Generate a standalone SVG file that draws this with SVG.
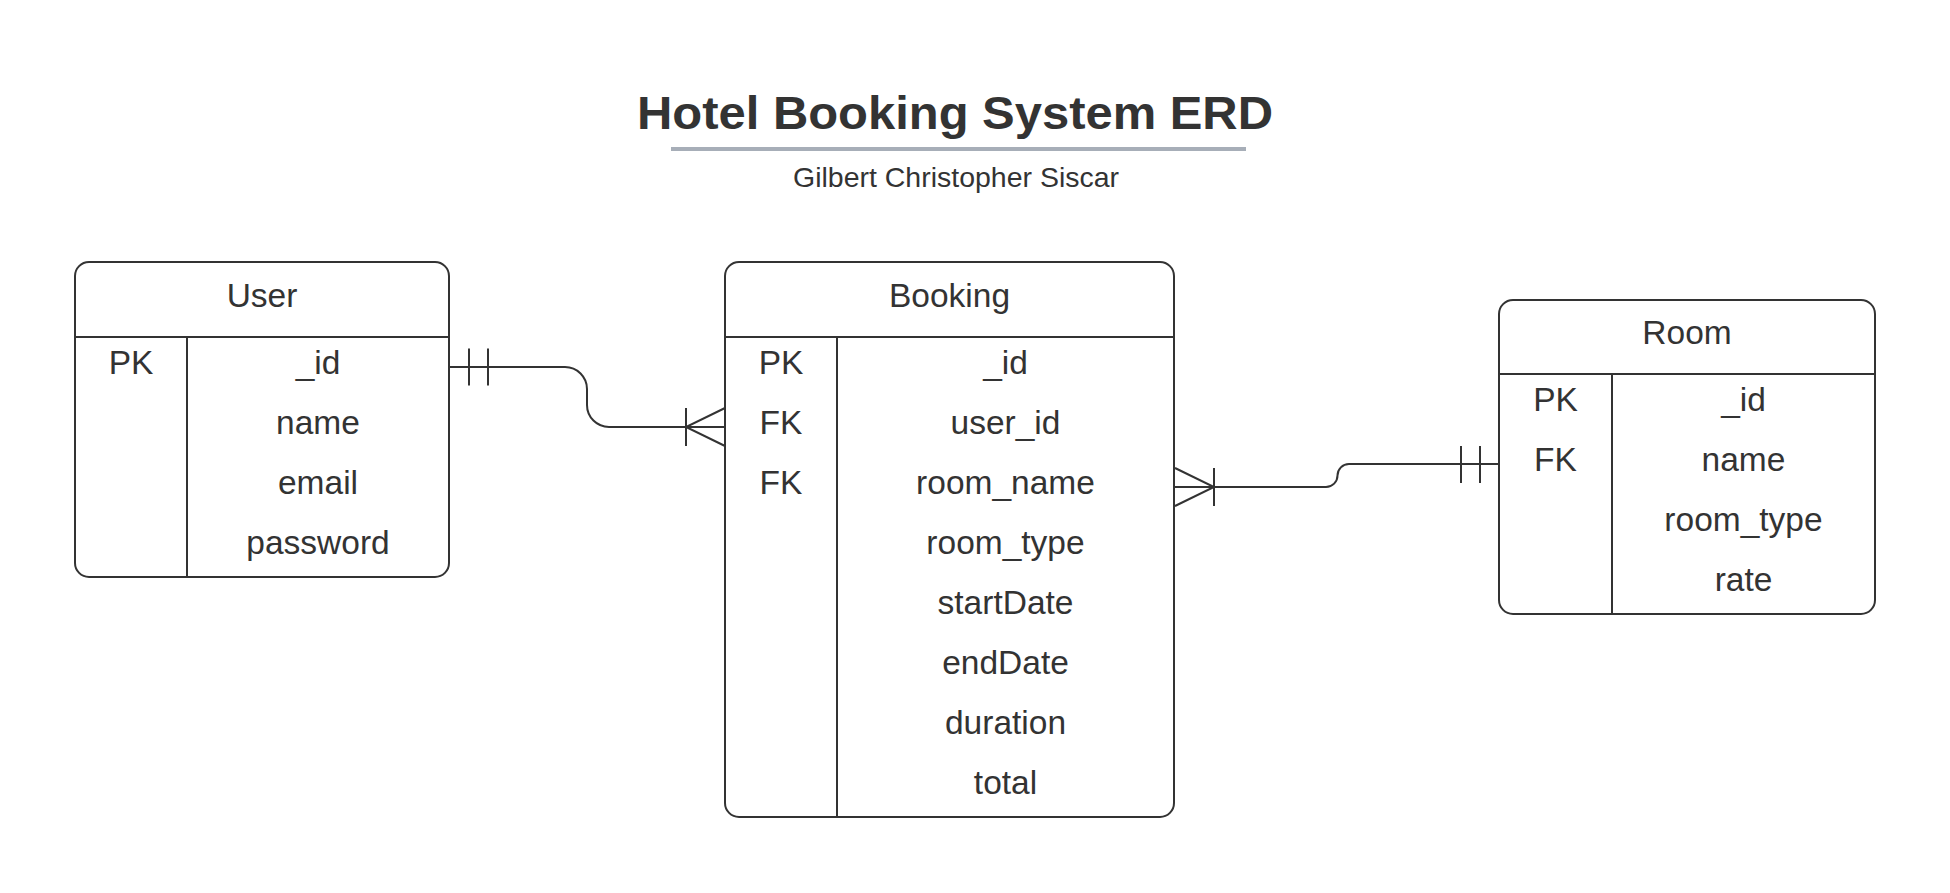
<svg xmlns="http://www.w3.org/2000/svg" width="1950" height="893" viewBox="0 0 1950 893">
<style>
.t{font-family:"Liberation Sans",Arial,sans-serif;fill:#333333;font-size:33.5px;text-anchor:middle}
.box{fill:#ffffff;stroke:#333333;stroke-width:2}
.ln{stroke:#333333;stroke-width:2;fill:none}
.cn{stroke:#333333;stroke-width:2;fill:none}
</style>
<rect width="1950" height="893" fill="#ffffff"/>
<g id="title">
<text x="955" y="129" font-family="Liberation Sans, Arial, sans-serif" font-weight="bold" font-size="47" fill="#333333" text-anchor="middle" textLength="636" lengthAdjust="spacingAndGlyphs">Hotel Booking System ERD</text>
<line x1="671" y1="149" x2="1246" y2="149" stroke="#A7AEB8" stroke-width="4"/>
<text x="956" y="187" font-family="Liberation Sans, Arial, sans-serif" font-size="27.5" fill="#333333" text-anchor="middle" textLength="326" lengthAdjust="spacingAndGlyphs">Gilbert Christopher Siscar</text>
</g>
<g id="connectors">
<path class="cn" d="M449,367 H565 A22,22 0 0 1 587,389 V405 A22,22 0 0 0 609,427 H725"/>
<line class="cn" x1="469" y1="348.5" x2="469" y2="385.5"/>
<line class="cn" x1="488" y1="348.5" x2="488" y2="385.5"/>
<line class="cn" x1="686" y1="408" x2="686" y2="446"/>
<path class="cn" d="M725,408 L686,427 L725,446"/>
<path class="cn" d="M1175,487 H1326 A11.5,11.5 0 0 0 1337.5,475.5 A11.5,11.5 0 0 1 1349,464 H1499"/>
<line class="cn" x1="1214" y1="468" x2="1214" y2="506"/>
<path class="cn" d="M1175,468 L1214,487 L1175,506"/>
<line class="cn" x1="1461" y1="446" x2="1461" y2="483"/>
<line class="cn" x1="1480" y1="446" x2="1480" y2="483"/>
</g>
<g id="user">
<rect class="box" x="75" y="262" width="374" height="315" rx="14"/>
<line class="ln" x1="75" y1="337" x2="449" y2="337"/>
<line class="ln" x1="187" y1="337" x2="187" y2="577"/>
<text class="t" x="262" y="306.5">User</text>
<text class="t" x="131" y="374">PK</text>
<text class="t" x="318" y="374">_id</text>
<text class="t" x="318" y="434">name</text>
<text class="t" x="318" y="494">email</text>
<text class="t" x="318" y="554">password</text>
</g>
<g id="booking">
<rect class="box" x="725" y="262" width="449" height="555" rx="14"/>
<line class="ln" x1="725" y1="337" x2="1174" y2="337"/>
<line class="ln" x1="837" y1="337" x2="837" y2="817"/>
<text class="t" x="949.5" y="306.5">Booking</text>
<text class="t" x="781" y="374">PK</text>
<text class="t" x="781" y="434">FK</text>
<text class="t" x="781" y="494">FK</text>
<text class="t" x="1005.5" y="374">_id</text>
<text class="t" x="1005.5" y="434">user_id</text>
<text class="t" x="1005.5" y="494">room_name</text>
<text class="t" x="1005.5" y="554">room_type</text>
<text class="t" x="1005.5" y="614">startDate</text>
<text class="t" x="1005.5" y="674">endDate</text>
<text class="t" x="1005.5" y="734">duration</text>
<text class="t" x="1005.5" y="794">total</text>
</g>
<g id="room">
<rect class="box" x="1499" y="300" width="376" height="314" rx="14"/>
<line class="ln" x1="1499" y1="374" x2="1875" y2="374"/>
<line class="ln" x1="1612" y1="374" x2="1612" y2="614"/>
<text class="t" x="1687" y="344">Room</text>
<text class="t" x="1555.5" y="411">PK</text>
<text class="t" x="1555.5" y="471">FK</text>
<text class="t" x="1743.5" y="411">_id</text>
<text class="t" x="1743.5" y="471">name</text>
<text class="t" x="1743.5" y="531">room_type</text>
<text class="t" x="1743.5" y="591">rate</text>
</g>
</svg>
